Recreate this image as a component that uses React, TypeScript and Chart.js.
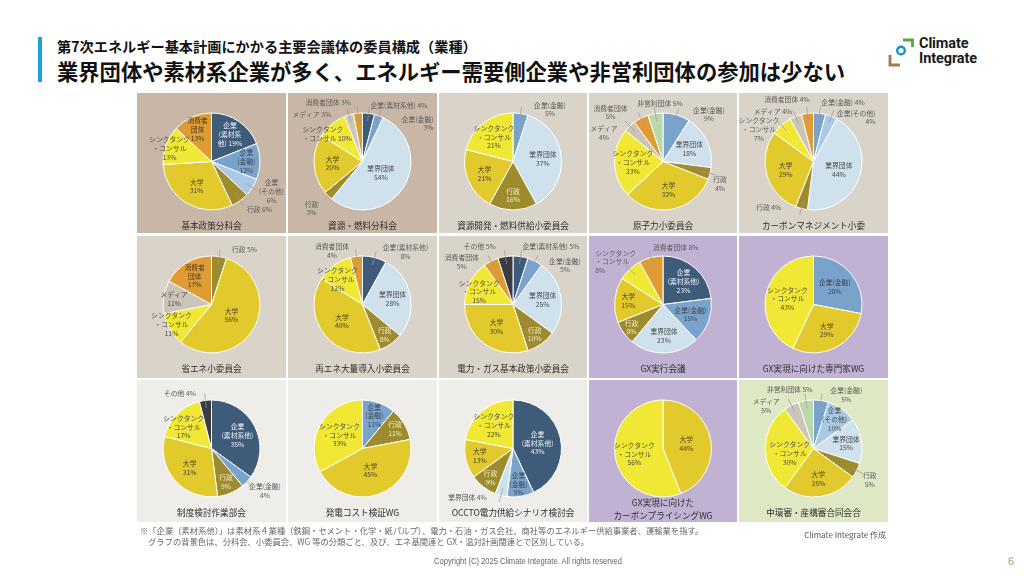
import React, { useEffect, useRef } from "react";
import { Chart, registerables } from "chart.js";

Chart.register(...registerables);

// ---------- data ----------
const CATEGORIES = [
  "企業（素材系他）",
  "企業（金融）",
  "企業（その他）",
  "業界団体",
  "行政",
  "大学",
  "シンクタンク・コンサル",
  "メディア",
  "消費者団体",
  "非営利団体",
  "その他",
];

const CATEGORY_COLORS = [
  "#3e5b7a",
  "#7aa3cc",
  "#a8cae6",
  "#cee1ec",
  "#9d8b2d",
  "#e2c92c",
  "#f0e834",
  "#cdc4b8",
  "#e09c34",
  "#b9d9aa",
  "#3a3c42",
];

const COMMITTEES = [
  "基本政策分科会",
  "資源・燃料分科会",
  "資源開発・燃料供給小委員会",
  "原子力小委員会",
  "カーボンマネジメント小委",
  "省エネ小委員会",
  "再エネ大量導入小委員会",
  "電力・ガス基本政策小委員会",
  "GX実行会議",
  "GX実現に向けた専門家WG",
  "制度検討作業部会",
  "発電コスト検証WG",
  "OCCTO電力供給シナリオ検討会",
  "GX実現に向けた\nカーボンプライシングWG",
  "中環審・産構審合同会合",
];

// order: 素材系他, 金融, その他企業, 業界団体, 行政, 大学, シンクタンク, メディア, 消費者団体, 非営利団体, その他
const V_KIHON = [19, 12, 6, 0, 6, 31, 13, 0, 13, 0, 0];
const V_SHIGEN = [4, 3, 0, 54, 3, 20, 10, 3, 3, 0, 0];
const V_SHIGEN_KAIHATSU = [0, 5, 0, 37, 16, 21, 21, 0, 0, 0, 0];
const V_GENSHIRYOKU = [0, 9, 0, 18, 4, 32, 23, 4, 5, 5, 0];
const V_CARBON_MGMT = [0, 4, 4, 44, 4, 29, 7, 4, 4, 0, 0];
const V_SHOENE = [0, 0, 0, 0, 5, 56, 11, 11, 17, 0, 0];
const V_SAIENE = [8, 0, 0, 28, 8, 40, 12, 0, 4, 0, 0];
const V_DENRYOKU_GAS = [5, 5, 0, 25, 10, 30, 15, 0, 5, 0, 5];
const V_GX_JIKKO = [23, 15, 0, 23, 8, 15, 8, 0, 8, 0, 0];
const V_GX_SENMONKA = [0, 28, 0, 0, 0, 29, 43, 0, 0, 0, 0];
const V_SEIDO = [35, 4, 0, 0, 9, 31, 17, 0, 0, 0, 4];
const V_HATSUDEN_COST = [0, 11, 0, 0, 11, 45, 33, 0, 0, 0, 0];
const V_OCCTO = [43, 9, 0, 4, 9, 13, 22, 0, 0, 0, 0];
const V_CARBON_PRICING = [0, 0, 0, 0, 0, 44, 56, 0, 0, 0, 0];
const V_CHUKANSHIN = [0, 5, 10, 15, 5, 25, 30, 5, 0, 5, 0];

const VALUES = [
  V_KIHON, V_SHIGEN, V_SHIGEN_KAIHATSU, V_GENSHIRYOKU, V_CARBON_MGMT,
  V_SHOENE, V_SAIENE, V_DENRYOKU_GAS, V_GX_JIKKO, V_GX_SENMONKA,
  V_SEIDO, V_HATSUDEN_COST, V_OCCTO, V_CARBON_PRICING, V_CHUKANSHIN,
];

// ---------- label layout (text placement, not data) ----------
type LabelSpec = {
  c: number;
  t: string[];
  f?: number;
  at?: [number, number];
  al?: CanvasTextAlign;
  line?: boolean;
};
const I = (c: number, t: string[], f: number): LabelSpec => ({ c, t, f });
const O = (c: number, t: string[], x: number, y: number, al: CanvasTextAlign = "center", line = true): LabelSpec => ({ c, t, at: [x, y], al, line });

const TT = ["シンクタンク", "・コンサル", "{v}%"];

const LABEL_SPECS: LabelSpec[][] = [
  [
    I(0, ["企業", "(素材系", "他) {v}%"], 0.68),
    I(1, ["企業", "(金融)", "{v}%"], 0.72),
    O(2, ["企業", "(その他)", "{v}%"], 60, 30),
    O(4, ["行政 {v}%"], 48, 48),
    I(5, ["大学", "{v}%"], 0.6),
    O(6, TT, -42, -13, "center", false),
    I(8, ["消費者", "団体", "{v}%"], 0.72),
  ],
  [
    O(0, ["企業(素材系他) {v}%"], 8, -56, "left"),
    O(1, ["企業(金融)", "{v}%"], 71, -38, "right"),
    I(3, ["業界団体", "{v}%"], 0.45),
    O(4, ["行政", "{v}%"], -51, 47),
    I(5, ["大学", "{v}%"], 0.62),
    O(6, ["シンクタンク", "・コンサル {v}%"], -60, -27.5, "left", false),
    O(7, ["メディア {v}%"], -70, -47, "left"),
    O(8, ["消費者団体 {v}%"], -57, -59.5, "left"),
  ],
  [
    O(1, ["企業(金融)", "{v}%"], 37, -52),
    I(3, ["業界団体", "{v}%"], 0.62),
    I(4, ["行政", "{v}%"], 0.7),
    I(5, ["大学", "{v}%"], 0.64),
    I(6, TT, 0.64),
  ],
  [
    O(1, ["企業(金融)", "{v}%"], 46, -47),
    I(3, ["業界団体", "{v}%"], 0.6),
    O(4, ["行政", "{v}%"], 57, 22.5),
    I(5, ["大学", "{v}%"], 0.6),
    I(6, TT, 0.62),
    O(7, ["メディア", "{v}%"], -59, -28.7),
    O(8, ["消費者団体", "{v}%"], -52.5, -49),
    O(9, ["非営利団体 {v}%"], -3, -57.7),
  ],
  [
    O(1, ["企業(金融) {v}%"], 29.5, -58.7),
    O(2, ["企業(その他)", "{v}%"], 62, -44.2, "right"),
    I(3, ["業界団体", "{v}%"], 0.55),
    O(4, ["行政 {v}%"], -44.8, 46.3),
    I(5, ["大学", "{v}%"], 0.6),
    O(6, TT, -54.5, -32),
    O(7, ["メディア {v}%"], -40.5, -50.3),
    O(8, ["消費者団体 {v}%"], -26.5, -62),
  ],
  [
    O(4, ["行政 {v}%"], 33, -55.5),
    I(5, ["大学", "{v}%"], 0.47),
    O(6, TT, -40, 19.8, "center", false),
    I(7, ["メディア", "{v}%"], 0.78),
    I(8, ["消費者", "団体", "{v}%"], 0.68),
  ],
  [
    O(0, ["企業(素材系他)", "{v}%"], 43, -52.3),
    I(3, ["業界団体", "{v}%"], 0.63),
    I(4, ["行政", "{v}%"], 0.78),
    I(5, ["大学", "{v}%"], 0.55),
    O(6, TT, -25, -25.2, "center", false),
    O(8, ["消費者団体", "{v}%"], -30.5, -53.3),
  ],
  [
    O(0, ["企業(素材系他) {v}%"], 38, -58),
    O(1, ["企業(金融)", "{v}%"], 52, -39.2),
    I(3, ["業界団体", "{v}%"], 0.62),
    I(4, ["行政", "{v}%"], 0.76),
    I(5, ["大学", "{v}%"], 0.58),
    O(6, TT, -33.8, -12.7, "center", false),
    O(8, ["消費者団体", "{v}%"], -51.2, -42.5),
    O(10, ["その他 {v}%"], -33.2, -58),
  ],
  [
    I(0, ["企業", "(素材系他)", "{v}%"], 0.64),
    I(1, ["企業(金融)", "{v}%"], 0.6),
    I(3, ["業界団体", "{v}%"], 0.65),
    I(4, ["行政", "{v}%"], 0.8),
    I(5, ["大学", "{v}%"], 0.72),
    O(6, TT, -67.8, -42.7, "left"),
    O(8, ["消費者団体 {v}%"], 12.8, -57),
  ],
  [
    I(1, ["企業(金融)", "{v}%"], 0.57),
    I(5, ["大学", "{v}%"], 0.6),
    I(6, TT, 0.55),
  ],
  [
    I(0, ["企業", "(素材系他)", "{v}%"], 0.6),
    O(1, ["企業(金融)", "{v}%"], 53.5, 42.5),
    I(4, ["行政", "{v}%"], 0.75),
    I(5, ["大学", "{v}%"], 0.6),
    O(6, TT, -27.8, -21.3, "center", false),
    O(10, ["その他 {v}%"], -31.5, -54.7),
  ],
  [
    I(1, ["企業", "(金融)", "{v}%"], 0.72),
    I(4, ["行政", "{v}%"], 0.78),
    I(5, ["大学", "{v}%"], 0.48),
    I(6, TT, 0.55),
  ],
  [
    I(0, ["企業", "(素材系他)", "{v}%"], 0.52),
    I(1, ["企業", "(金融)", "{v}%"], 0.74),
    O(3, ["業界団体 {v}%"], -45.5, 49),
    I(4, ["行政", "{v}%"], 0.76),
    I(5, ["大学", "{v}%"], 0.7),
    I(6, TT, 0.62),
  ],
  [
    I(5, ["大学", "{v}%"], 0.49),
    I(6, TT, 0.6),
  ],
  [
    O(1, ["企業(金融)", "{v}%"], 32.8, -53.8),
    I(2, ["企業", "(その他)", "{v}%"], 0.74),
    I(3, ["業界団体", "{v}%"], 0.68),
    O(4, ["行政", "{v}%"], 56.2, 31.2),
    I(5, ["大学", "{v}%"], 0.63),
    O(6, TT, -23.8, 4.8, "center", false),
    O(7, ["メディア", "{v}%"], -47.2, -42.5),
    O(9, ["非営利団体 {v}%"], -23.8, -58.8),
  ],
];

// ---------- styles ----------
const BG_TAN = "#c8b7a6";
const BG_BEIGE = "#dad3c9";
const BG_PURPLE = "#c1b2d4";
const BG_LIGHT = "#efedea";
const BG_GREEN = "#dee8c4";
const CELL_BG = [
  BG_TAN, BG_TAN, BG_BEIGE, BG_BEIGE, BG_BEIGE,
  BG_BEIGE, BG_BEIGE, BG_BEIGE, BG_PURPLE, BG_PURPLE,
  BG_LIGHT, BG_LIGHT, BG_LIGHT, BG_PURPLE, BG_GREEN,
];
const COL_X = [137, 288, 439, 589, 739];
const COL_W = [149, 149, 148, 148, 149];
const ROW_Y = [93, 236, 380];
const ROW_H = [140, 142, 142];
const PIE_CY = 68.5;
const PIE_HALF = 49;
const TITLE_CY = 132;

const JP = '"Noto Sans CJK JP", "Noto Sans", sans-serif';
const INSIDE_TEXT = ["#eef2f7", "#3f4650", "#4a4a4a", "#4a4a4a", "#f3eccb", "#4a4330", "#4a4a3a", "#4a4a4a", "#4a3a20", "#4a4a4a", "#ffffff"];

function makeLabelPlugin(specs: LabelSpec[], cats: number[], vals: number[]) {
  return {
    id: "pieLabels",
    afterDatasetsDraw(chart: any) {
      const ctx: CanvasRenderingContext2D = chart.ctx;
      const meta = chart.getDatasetMeta(0);
      ctx.save();
      ctx.font = `6.8px ${JP}`;
      ctx.textBaseline = "middle";
      const LH = 8.7;
      meta.data.forEach((arc: any, k: number) => {
        const cat = cats[k];
        const spec = specs.find((s) => s.c === cat);
        if (!spec) return;
        const p = arc.getProps(["x", "y", "startAngle", "endAngle", "outerRadius"], true);
        const mid = (p.startAngle + p.endAngle) / 2;
        const cs = Math.cos(mid);
        const sn = Math.sin(mid);
        const r = p.outerRadius;
        const lines = spec.t.map((s) => s.replace("{v}", String(vals[k])));
        let px: number;
        let py: number;
        let color: string;
        if (spec.at) {
          px = p.x + spec.at[0];
          py = p.y + spec.at[1];
          ctx.textAlign = spec.al || "center";
          if (spec.line) {
            ctx.strokeStyle = "#9d9a96";
            ctx.lineWidth = 0.7;
            ctx.beginPath();
            ctx.moveTo(p.x + cs * r * 0.84, p.y + sn * r * 0.84);
            ctx.lineTo(p.x + cs * r * 1.14, p.y + sn * r * 1.14);
            ctx.stroke();
            color = "#5a5a5a";
          } else {
            color = "#4a4a4a";
          }
        } else {
          const rr = r * (spec.f || 0.6);
          px = p.x + cs * rr;
          py = p.y + sn * rr;
          ctx.textAlign = "center";
          color = INSIDE_TEXT[cat];
        }
        ctx.fillStyle = color;
        const n = lines.length;
        lines.forEach((ln, j) => {
          ctx.fillText(ln, px, py + (j - (n - 1) / 2) * LH);
        });
      });
      ctx.restore();
    },
  };
}

function PieCell({ k }: { k: number }) {
  const ref = useRef<HTMLCanvasElement>(null);
  const col = k % 5;
  const row = Math.floor(k / 5);
  const x = COL_X[col];
  const y = ROW_Y[row];
  const w = COL_W[col];
  const h = ROW_H[row];

  useEffect(() => {
    const values = VALUES[k];
    const nz = values.map((v, i) => ({ v, i })).filter((d) => d.v > 0);
    const cats = nz.map((d) => d.i);
    const vals = nz.map((d) => d.v);
    const chart = new Chart(ref.current as HTMLCanvasElement, {
      type: "pie",
      data: {
        labels: cats.map((i) => CATEGORIES[i]),
        datasets: [
          {
            data: vals,
            backgroundColor: cats.map((i) => CATEGORY_COLORS[i]),
            borderColor: "#ffffff",
            borderWidth: 1,
            hoverOffset: 0,
          },
        ],
      },
      options: {
        responsive: false,
        animation: false,
        events: [],
        layout: {
          padding: {
            left: w / 2 - PIE_HALF,
            right: w - w / 2 - PIE_HALF,
            top: PIE_CY - PIE_HALF,
            bottom: h - PIE_CY - PIE_HALF,
          },
        },
        plugins: {
          legend: { display: false },
          tooltip: { enabled: false },
          title: { display: false },
        },
      },
      plugins: [makeLabelPlugin(LABEL_SPECS[k], cats, vals)],
    } as any);
    return () => chart.destroy();
  }, [k, w, h]);

  const titleLines = COMMITTEES[k].split("\n");
  const lh = 13;
  return (
    <div style={{ position: "absolute", left: x, top: y, width: w, height: h, background: CELL_BG[k] }}>
      <canvas ref={ref} width={w} height={h} style={{ position: "absolute", left: 0, top: 0 }} />
      <div
        style={{
          position: "absolute",
          left: 0,
          width: w,
          top: TITLE_CY - (titleLines.length * lh) / 2 - (titleLines.length > 1 ? 3 : 0),
          textAlign: "center",
          fontFamily: JP,
          fontSize: 8.6,
          lineHeight: `${lh}px`,
          color: "#2e2e2e",
          whiteSpace: "nowrap",
        }}
      >
        {titleLines.map((t, i) => (
          <div key={i}>{t}</div>
        ))}
      </div>
    </div>
  );
}

function Logo() {
  return (
    <div style={{ position: "absolute", left: 884, top: 34, width: 120, height: 34 }}>
      <svg width={34} height={34} style={{ position: "absolute", left: 0, top: 0 }}>
        <polyline points="19,6 28.5,6 28.5,13" fill="none" stroke="#5aa646" strokeWidth={2.8} />
        <circle cx={17} cy={16.5} r={3.8} fill="none" stroke="#1b8fd2" strokeWidth={2.4} />
        <polyline points="6,21 6,31 16,31" fill="none" stroke="#a57a4a" strokeWidth={2.8} />
      </svg>
      <div
        style={{
          position: "absolute",
          left: 35,
          top: 3,
          fontFamily: "Roboto, Inter, sans-serif",
          fontWeight: 700,
          fontSize: 14.5,
          lineHeight: "14.5px",
          color: "#1a1a1a",
          letterSpacing: "-0.1px",
        }}
      >
        <div>Climate</div>
        <div>Integrate</div>
      </div>
    </div>
  );
}

export default function App() {
  return (
    <div
      style={{
        position: "absolute",
        left: 0,
        top: 0,
        width: 1024,
        height: 576,
        background: "#ffffff",
        overflow: "hidden",
        fontFamily: JP,
      }}
    >
      <div style={{ position: "absolute", left: 38, top: 37, width: 4, height: 45, background: "#17a3db" }} />
      <div
        style={{
          position: "absolute",
          left: 57,
          top: 38,
          fontSize: 14.2,
          lineHeight: "16px",
          fontWeight: 700,
          color: "#111",
          whiteSpace: "nowrap",
        }}
      >
        第7次エネルギー基本計画にかかる主要会議体の委員構成（業種）
      </div>
      <div
        style={{
          position: "absolute",
          left: 57,
          top: 59,
          fontSize: 21.3,
          lineHeight: "24px",
          fontWeight: 700,
          color: "#111",
          whiteSpace: "nowrap",
        }}
      >
        業界団体や素材系企業が多く、エネルギー需要側企業や非営利団体の参加は少ない
      </div>
      <Logo />

      {VALUES.map((_, k) => (
        <PieCell key={k} k={k} />
      ))}

      <div
        style={{
          position: "absolute",
          left: 140,
          top: 525,
          fontSize: 8.3,
          lineHeight: "11px",
          color: "#666",
          whiteSpace: "nowrap",
        }}
      >
        <div>※「企業（素材系他）」は素材系４業種（鉄鋼・セメント・化学・紙パルプ）、電力・石油・ガス会社、商社等のエネルギー供給事業者、運輸業を指す。</div>
        <div style={{ paddingLeft: 8 }}>グラフの背景色は、分科会、小委員会、WG 等の分類ごと、及び、エネ基関連と GX・温対計画関連とで区別している。</div>
      </div>
      <div
        style={{
          position: "absolute",
          right: 1024 - 886,
          top: 529,
          fontSize: 8,
          lineHeight: "12px",
          color: "#555",
          whiteSpace: "nowrap",
        }}
      >
        Climate Integrate 作成
      </div>
      <div
        style={{
          position: "absolute",
          left: 328,
          width: 400,
          top: 555,
          textAlign: "center",
          fontFamily: '"Liberation Sans", sans-serif',
          fontSize: 8.8,
          lineHeight: "12px",
          color: "#666",
          transform: "scaleX(0.86)",
          transformOrigin: "center",
          whiteSpace: "nowrap",
        }}
      >
        Copyright (C) 2025 Climate Integrate. All rights reserved
      </div>
      <div
        style={{
          position: "absolute",
          left: 1008,
          top: 554,
          fontFamily: '"Liberation Sans", sans-serif',
          fontSize: 11,
          lineHeight: "14px",
          color: "#999",
        }}
      >
        6
      </div>
    </div>
  );
}
